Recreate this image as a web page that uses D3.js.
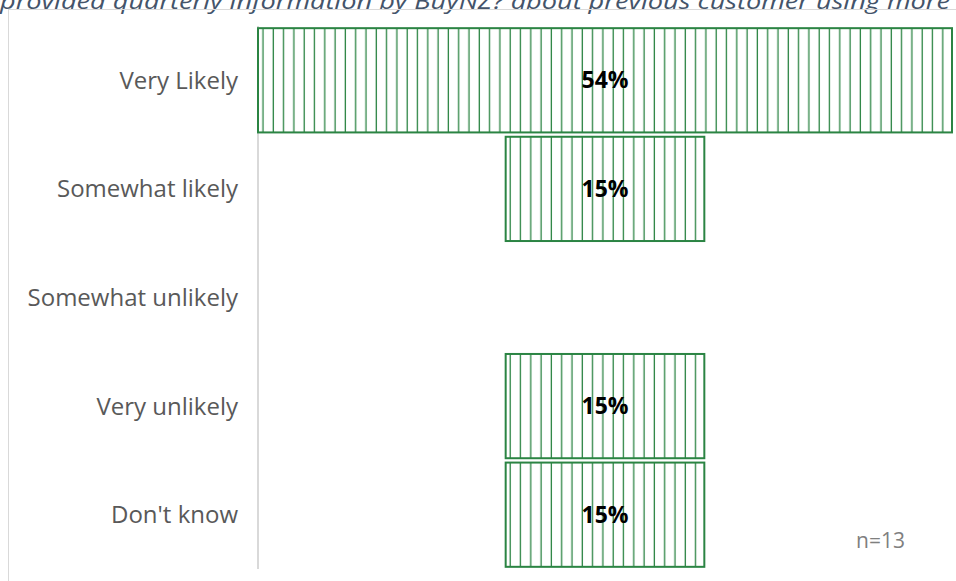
<!DOCTYPE html>
<html>
<head>
<meta charset="utf-8">
<script src="https://cdn.jsdelivr.net/npm/d3@7"></script>
<style>
  body { margin: 0; background: #fff; }
  svg { display: block; }
</style>
</head>
<body>
<script>
const width = 956;
const height = 581;

const titleText = "provided quarterly information by BuyNZ? about previous customer using more";
const categories = ["Very Likely", "Somewhat likely", "Somewhat unlikely", "Very unlikely", "Don't know"];
const shares = [53.8, 15.4, 0, 15.4, 15.4];   // 7,2,0,2,2 of 13
const shareLabels = ["54%", "15%", "", "15%", "15%"];
const note = "n=13";

const svg = d3.select("body").append("svg")
  .attr("width", width)
  .attr("height", height);

// hatch fill for the bars
const defs = svg.append("defs");
const pat = defs.append("pattern")
  .attr("id", "vhatch")
  .attr("patternUnits", "userSpaceOnUse")
  .attr("x", 0.5)
  .attr("width", 10.3)
  .attr("height", 10);
pat.append("rect").attr("width", 10.3).attr("height", 10).attr("fill", "#fff");
pat.append("line")
  .attr("x1", 5).attr("x2", 5).attr("y1", 0).attr("y2", 10)
  .attr("stroke", "#2b8443").attr("stroke-width", 1.3);

// title (cut off at top in the reference)
svg.append("text")
  .attr("x", 0)
  .attr("y", 9)
  .attr("font-family", "Open Sans")
  .attr("font-style", "italic")
  .attr("font-size", 21)
  .attr("textLength", 950)
  .attr("lengthAdjust", "spacingAndGlyphs")
  .attr("fill", "#44546a")
  .text(titleText);

// chart frame
svg.append("rect")
  .attr("x", 8.5).attr("y", 9.5)
  .attr("width", width + 10).attr("height", height + 10)
  .attr("fill", "none")
  .attr("stroke", "#d9d9d9");

const axisX = 258;
const y = d3.scaleBand()
  .domain(categories)
  .range([26, 569])
  .paddingInner(0.04)
  .paddingOuter(0.02);

// bars are centred on one line, funnel style
const cx = 605;
const w = d3.scaleLinear().domain([0, 53.8]).range([0, 694]);

svg.append("line")
  .attr("x1", axisX).attr("x2", axisX)
  .attr("y1", 26).attr("y2", 569)
  .attr("stroke", "#d9d9d9").attr("stroke-width", 2);

const rows = categories.map((c, i) => ({ cat: c, v: shares[i], lab: shareLabels[i] }));

svg.selectAll("rect.bar")
  .data(rows.filter(d => d.v > 0))
  .join("rect")
  .attr("class", "bar")
  .attr("x", d => cx - w(d.v) / 2)
  .attr("y", d => y(d.cat))
  .attr("width", d => w(d.v))
  .attr("height", y.bandwidth())
  .attr("fill", "url(#vhatch)")
  .attr("stroke", "#2b8443")
  .attr("stroke-width", 2);

svg.selectAll("text.val")
  .data(rows.filter(d => d.v > 0))
  .join("text")
  .attr("class", "val")
  .attr("x", cx)
  .attr("y", d => y(d.cat) + y.bandwidth() / 2)
  .attr("dy", "0.35em")
  .attr("text-anchor", "middle")
  .attr("font-family", "Open Sans")
  .attr("font-weight", "bold")
  .attr("font-size", 23)
  .attr("fill", "#000")
  .text(d => d.lab);

svg.selectAll("text.cat")
  .data(categories)
  .join("text")
  .attr("class", "cat")
  .attr("x", 238)
  .attr("y", d => y(d) + y.bandwidth() / 2)
  .attr("dy", "0.35em")
  .attr("text-anchor", "end")
  .attr("font-family", "Open Sans")
  .attr("font-size", 24)
  .attr("fill", "#595959")
  .text(d => d);

svg.append("text")
  .attr("x", 905)
  .attr("y", 541)
  .attr("dy", "0.35em")
  .attr("text-anchor", "end")
  .attr("font-family", "Open Sans")
  .attr("font-size", 21)
  .attr("fill", "#7f7f7f")
  .text(note);
</script>
</body>
</html>
